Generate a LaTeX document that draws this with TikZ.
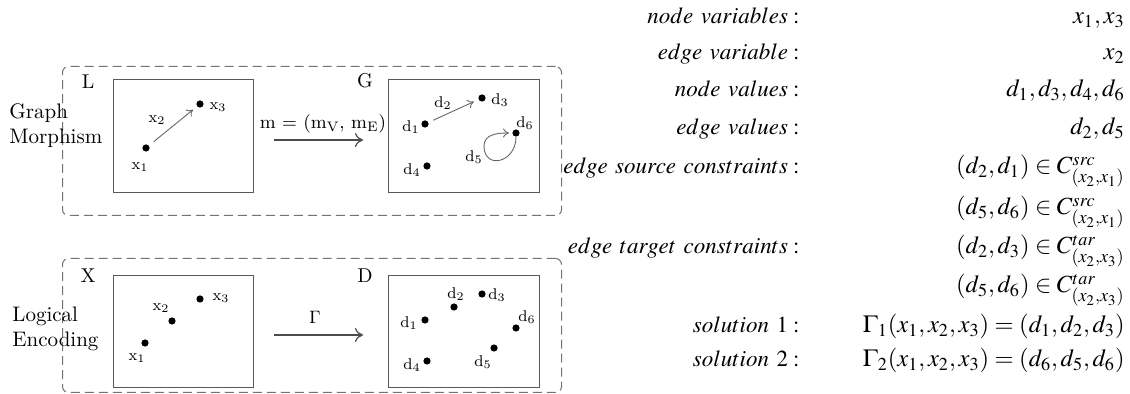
\documentclass[tikz,border=0pt]{standalone}
\usepackage{mathptmx}
\usepackage[no-math]{fontspec}
\usetikzlibrary{arrows.meta}
\tikzset{
  frame/.style={draw=black!55, dash pattern=on 4.5pt off 2.5pt, rounded corners=3pt, line width=0.5pt, anchor=north west, inner sep=0pt},
  panel/.style={draw=black!65, line width=0.55pt, anchor=north west, inner sep=0pt},
  dot/.style={circle, fill=black, inner sep=0pt, minimum size=3.6pt},
  lbl/.style={font=\fontsize{7.8}{9}\selectfont, inner sep=0pt},
  ttl/.style={font=\fontsize{10}{12}\selectfont, inner sep=0pt},
  side/.style={font=\fontsize{10.5}{12.5}\selectfont, align=left, inner sep=0pt, anchor=west},
  thinarr/.style={draw=black!60, line width=0.45pt, -{To[length=3pt,width=4.5pt]}},
  bigarr/.style={draw=black!70, line width=0.6pt, -{To[length=4pt,width=7pt]}},
  key/.style={font=\fontsize{11.5}{14}\selectfont, anchor=base east, inner sep=0pt},
  val/.style={font=\fontsize{12.3}{14}\selectfont, anchor=base east, inner sep=0pt},
}
\begin{document}
\begin{tikzpicture}[x=0.5pt,y=-0.5pt]
\useasboundingbox (0,0) rectangle (1130,394);
% dashed frames
\node[frame, minimum width=249.5pt, minimum height=74.5pt] (topframe) at (62,66) {};
\node[frame, minimum width=249.5pt, minimum height=67pt] (botframe) at (62,258) {};
% side titles
\node[side] (gm) at (9,125.5) {Graph\\Morphism};
\node[side] (le) at (12,328.5) {Logical\\Encoding};
% panels
\node[panel, minimum width=70pt, minimum height=56.5pt] (Lbox) at (113,79) {};
\node[panel, minimum width=75.5pt, minimum height=56.5pt] (Gbox) at (388,79) {};
\node[panel, minimum width=70pt, minimum height=56pt] (Xbox) at (113,275) {};
\node[panel, minimum width=75.5pt, minimum height=56pt] (Dbox) at (388,275) {};
\node[ttl] (Lt) at (88,82) {L};
\node[ttl] (Gt) at (365,81) {G};
\node[ttl] (Xt) at (88,276) {X};
\node[ttl] (Dt) at (365,276) {D};
% ---- L graph
\node[dot] (lx1) at (146,148) {};
\node[dot] (lx3) at (200,104) {};
\node[lbl] (llx1) at (140,167) {x\textsubscript{1}};
\node[lbl] (llx2) at (157,120) {x\textsubscript{2}};
\node[lbl] (llx3) at (218,107) {x\textsubscript{3}};
\draw[thinarr, shorten <=3pt, shorten >=2.5pt] (lx1) -- (lx3);
% ---- G graph
\node[dot] (gd1) at (425,124) {};
\node[dot] (gd3) at (482,98) {};
\node[dot] (gd6) at (516,133) {};
\node[dot] (gd4) at (427,166) {};
\node[lbl] (lgd1) at (411,127) {d\textsubscript{1}};
\node[lbl] (lgd2) at (443,103) {d\textsubscript{2}};
\node[lbl] (lgd3) at (500,100) {d\textsubscript{3}};
\node[lbl] (lgd4) at (412,170) {d\textsubscript{4}};
\node[lbl] (lgd5) at (474,157) {d\textsubscript{5}};
\node[lbl] (lgd6) at (525,123) {d\textsubscript{6}};
\draw[thinarr, shorten <=2.5pt, shorten >=2.5pt] (gd1) -- (gd3);
\coordinate (loopl) at (484,146);
\draw[thinarr, shorten >=1.5pt] (gd6.south) .. controls +(0,26) and +(0,24) .. (loopl) .. controls +(0,-12) and +(-14,0) .. (gd6.west);
% ---- morphism arrow
\coordinate (ma) at (274,140);
\coordinate (mb) at (363,140);
\draw[bigarr] (ma) -- (mb);
\node[font=\fontsize{9.3}{11}\selectfont, inner sep=0pt] (mlab) at (323,124) {m = (m\textsubscript{V}, m\textsubscript{E})};
% ---- X graph
\node[dot] (xx1) at (145,343) {};
\node[dot] (xx2) at (172,321) {};
\node[dot] (xx3) at (200,299) {};
\node[lbl] (lxx1) at (137,358) {x\textsubscript{1}};
\node[lbl] (lxx2) at (161,308) {x\textsubscript{2}};
\node[lbl] (lxx3) at (221,298) {x\textsubscript{3}};
% ---- D graph
\node[dot] (dd1) at (425,320) {};
\node[dot] (dd2) at (454,307) {};
\node[dot] (dd3) at (482,294) {};
\node[dot] (dd6) at (516,328) {};
\node[dot] (dd5) at (494,348) {};
\node[dot] (dd4) at (427,361) {};
\node[lbl] (ldd1) at (409,323) {d\textsubscript{1}};
\node[lbl] (ldd2) at (456,294) {d\textsubscript{2}};
\node[lbl] (ldd3) at (497,295) {d\textsubscript{3}};
\node[lbl] (ldd4) at (412,365) {d\textsubscript{4}};
\node[lbl] (ldd5) at (483,362) {d\textsubscript{5}};
\node[lbl] (ldd6) at (527,317) {d\textsubscript{6}};
% ---- Gamma arrow
\coordinate (ga) at (274,335);
\coordinate (gb) at (363,335);
\draw[bigarr] (ga) -- (gb);
\node[font=\fontsize{9}{10}\selectfont, inner sep=0pt] (glab) at (315,317) {Γ};
% ---- right side
\node[key] (k1) at (800,24) {$node\ variables:$};
\node[val] (v1) at (1125,24) {$x_1,x_3$};
\node[key] (k2) at (800,60) {$edge\ variable:$};
\node[val] (v2) at (1125,60) {$x_2$};
\node[key] (k3) at (800,97) {$node\ values:$};
\node[val] (v3) at (1125,97) {$d_1,d_3,d_4,d_6$};
\node[key] (k4) at (800,135) {$edge\ values:$};
\node[val] (v4) at (1125,135) {$d_2,d_5$};
\node[key] (k5) at (800,174) {$edge\ source\ constraints:$};
\node[val] (v5) at (1125,174) {$(d_2,d_1)\in C^{src}_{(x_2,x_1)}$};
\node[val] (v6) at (1125,215) {$(d_5,d_6)\in C^{src}_{(x_2,x_1)}$};
\node[key] (k7) at (800,254) {$edge\ target\ constraints:$};
\node[val] (v7) at (1125,254) {$(d_2,d_3)\in C^{tar}_{(x_2,x_3)}$};
\node[val] (v8) at (1125,293) {$(d_5,d_6)\in C^{tar}_{(x_2,x_3)}$};
\node[key] (k9) at (800,333) {$solution\ 1:$};
\node[val] (v9) at (1125,333) {$\Gamma_1(x_1,x_2,x_3)=(d_1,d_2,d_3)$};
\node[key] (k10) at (800,367) {$solution\ 2:$};
\node[val] (v10) at (1125,367) {$\Gamma_2(x_1,x_2,x_3)=(d_6,d_5,d_6)$};
\end{tikzpicture}
\end{document}
